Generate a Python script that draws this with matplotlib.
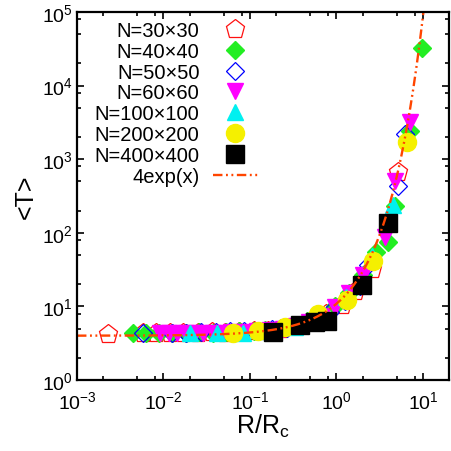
import numpy as np
import matplotlib
matplotlib.use('Agg')
import matplotlib.pyplot as plt
from matplotlib.ticker import LogLocator, NullFormatter

plt.rcParams['font.family'] = ['Liberation Sans', 'DejaVu Sans']
plt.rcParams['mathtext.fontset'] = 'custom'
plt.rcParams['mathtext.rm'] = 'Liberation Sans'
plt.rcParams['mathtext.it'] = 'Liberation Sans'
plt.rcParams['mathtext.default'] = 'regular'

# values (R/Rc, <T>)
x30 = [0.0023, 0.0058, 0.0083, 0.012, 0.017, 0.025, 0.036, 0.052, 0.075, 0.11,
       0.16, 0.23, 0.34, 0.5, 0.75, 1.15, 1.65, 2.6, 5.1]
y30 = [4.2, 4.3, 4.3, 4.4, 4.4, 4.4, 4.5, 4.4, 4.5, 4.6,
       4.7, 4.9, 5.4, 6.1, 7.8, 10.5, 16, 32, 665]

x40 = [0.0044, 0.0062, 0.0088, 0.0125, 0.018, 0.026, 0.037, 0.053, 0.075, 0.11,
       0.15, 0.22, 0.32, 0.46, 0.66, 0.95, 1.4, 2.0, 2.9, 3.9, 4.7, 7.1, 9.7]
y40 = [4.3, 4.3, 4.4, 4.3, 4.4, 4.5, 4.4, 4.5, 4.6, 4.6,
       4.8, 5.0, 5.5, 6.3, 7.6, 10.2, 15, 27, 55, 74, 230, 2400, 32000]

x50 = [0.0058, 0.0125, 0.018, 0.027, 0.04, 0.058, 0.085, 0.125, 0.18, 0.27,
       0.4, 0.58, 0.85, 1.25, 1.85, 2.3, 5.1, 6.2]
y50 = [4.3, 4.4, 4.4, 4.5, 4.5, 4.6, 4.6, 4.7, 4.9, 5.1,
       5.6, 6.5, 8.3, 12, 19, 36, 430, 2190]

x60 = [0.0091, 0.0115, 0.0145, 0.018, 0.023, 0.029, 0.037, 0.047, 0.06, 0.085,
       0.12, 0.17, 0.24, 0.34, 0.48, 0.68, 0.97, 1.4, 2.0, 3.6, 4.7, 7.1]
y60 = [4.3, 4.3, 4.4, 4.3, 4.4, 4.4, 4.4, 4.4, 4.5, 4.5,
       4.6, 4.8, 5.0, 5.4, 6.1, 7.4, 9.8, 15, 27, 87, 500, 3190]

x100 = [0.0202, 0.0415, 0.083, 0.165, 0.33, 0.66, 1.3, 2.6, 4.5]
y100 = [4.3, 4.4, 4.4, 4.6, 5.3, 7.6, 13.5, 48, 235]

x200 = [0.0636, 0.124, 0.254, 0.61, 1.32, 2.64, 6.5]
y200 = [4.4, 4.7, 5.2, 7.8, 12.4, 42, 1690]

x400 = [0.185, 0.38, 0.57, 0.78, 1.97, 3.94]
y400 = [4.5, 5.6, 6.2, 6.4, 19.5, 135]

fig = plt.figure(figsize=(4.51, 4.52), dpi=100)
ax = fig.add_axes([77/451, 1 - 381/452, 372/451, 368/452])

ax.plot(x30, y30, 'p', ls='none', ms=14, mfc='none', mec='#ff1010', mew=0.9, label='N=30×30')
ax.plot(x40, y40, 'D', ls='none', ms=9.5, mfc='#22ee22', mec='#22ee22', label='N=40×40')
ax.plot(x50, y50, 'D', ls='none', ms=9.5, mfc='none', mec='#0000ff', mew=0.9, label='N=50×50')
ax.plot(x60, y60, 'v', ls='none', ms=12, mfc='#ff00ff', mec='#ff00ff', label='N=60×60')
ax.plot(x100, y100, '^', ls='none', ms=12, mfc='#00f0f0', mec='#00f0f0', label='N=100×100')
ax.plot(x200, y200, 'o', ls='none', ms=13, mfc='#f5f000', mec='#f5f000', label='N=200×200')
ax.plot(x400, y400, 's', ls='none', ms=13, mfc='black', mec='black', label='N=400×400')

xf = np.logspace(-3, np.log10(20), 500)
ax.plot(xf, 4*np.exp(xf), color='#ff4500', lw=1.7, dashes=(4, 1.5, 0.8, 1.5, 0.8, 1.5),
        label='4exp(x)')

ax.set_xscale('log')
ax.set_yscale('log')
ax.set_xlim(1e-3, 20)
ax.set_ylim(1, 1e5)

for a in (ax.xaxis, ax.yaxis):
    a.set_major_locator(LogLocator(base=10, numticks=20))
    a.set_minor_locator(LogLocator(base=10, subs=(2, 5, 8), numticks=20))
    a.set_minor_formatter(NullFormatter())

ax.tick_params(which='both', direction='in', top=True, right=True, width=1.2, labelsize=14)
ax.tick_params(which='major', length=5)
ax.tick_params(which='minor', length=3)
ax.tick_params(axis='x', pad=7)
ax.tick_params(axis='y', pad=3)
for s in ax.spines.values():
    s.set_linewidth(1.6)

ax.set_xlabel('R/R$_c$', fontsize=18, labelpad=0)
ax.set_ylabel('<T>', fontsize=18, labelpad=3)

leg = ax.legend(loc='upper right', bbox_to_anchor=(258/451, 1 - 22/452),
                bbox_transform=fig.transFigure, frameon=False, markerfirst=False,
                fontsize=14.5, labelspacing=0.09, handlelength=2.25, handletextpad=0.65,
                borderpad=0, borderaxespad=0, numpoints=1)

fig.savefig('out.png', dpi=100)
